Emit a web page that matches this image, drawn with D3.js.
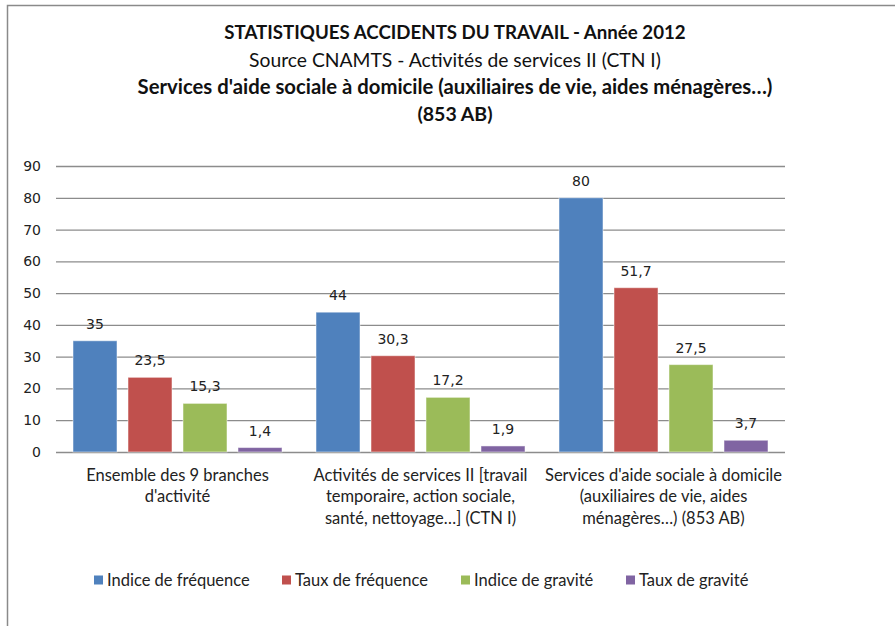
<!DOCTYPE html>
<html>
<head>
  <meta charset="utf-8">
  <title>Statistiques accidents du travail 2012</title>
  <style>
    body { margin: 0; background: #fff; }
    svg { display: block; }
    .title { font-family: Lato, "Open Sans", sans-serif; fill: #111; text-anchor: middle; }
    .num { font-family: "DejaVu Sans", Verdana, sans-serif; font-size: 14px; fill: #222; }
    .cat { font-family: Lato, "Open Sans", sans-serif; font-size: 16.5px; fill: #222; text-anchor: middle; }
    .leg { font-family: Lato, "Open Sans", sans-serif; font-size: 16.5px; fill: #222; }
  </style>
  <script src="https://d3js.org/d3.v7.min.js"></script>
</head>
<body>
  <div id="chart"></div>
  <script>
    // data
    const categories = [
      ["Ensemble des 9 branches", "d'activité"],
      ["Activités de services II [travail", "temporaire, action sociale,", "santé, nettoyage…]  (CTN  I)"],
      ["Services d'aide sociale à domicile", "(auxiliaires de vie, aides", "ménagères…)  (853 AB)"]
    ];
    const seriesNames = ["Indice de fréquence", "Taux de fréquence", "Indice de gravité", "Taux de gravité"];
    const indiceFrequence = [35, 44, 80];
    const tauxFrequence = [23.5, 30.3, 51.7];
    const indiceGravite = [15.3, 17.2, 27.5];
    const tauxGravite = [1.4, 1.9, 3.7];
    const yTicks = [0, 10, 20, 30, 40, 50, 60, 70, 80, 90];
    const titleLines = [
      "STATISTIQUES ACCIDENTS DU TRAVAIL - Année 2012",
      "Source CNAMTS - Activités de services II (CTN I)",
      "Services d'aide sociale à domicile (auxiliaires de vie, aides ménagères…)",
      "(853 AB)"
    ];

    const colors = ["#4F81BD", "#C0504D", "#9BBB59", "#8064A2"];
    const seriesValues = [indiceFrequence, tauxFrequence, indiceGravite, tauxGravite];

    const W = 895, H = 626;
    const svg = d3.select("#chart").append("svg").attr("width", W).attr("height", H);

    // chart frame
    svg.append("path")
      .attr("d", `M7.5,${H} V5.5 H${W}`)
      .attr("fill", "none").attr("stroke", "#8a8a8a").attr("stroke-width", 1.5);

    // titles
    const tY = [32, 60, 87, 114];
    const tWeight = ["bold", "normal", "bold", "bold"];
    const tSize = [18.7, 19.3, 20.3, 19.5];
    svg.selectAll("text.title").data(titleLines).join("text")
      .attr("class", "title")
      .attr("x", 455).attr("y", (d, i) => tY[i]).attr("dy", "0.35em")
      .attr("font-weight", (d, i) => tWeight[i])
      .attr("font-size", (d, i) => tSize[i] + "px")
      .text(d => d);

    const plot = { left: 56, right: 785, top: 166, bottom: 452 };

    const x0 = d3.scaleBand().domain(d3.range(categories.length))
      .range([plot.left, plot.right]);
    const x1 = d3.scaleBand().domain(d3.range(seriesNames.length))
      .range([17, x0.bandwidth() - 17]).paddingInner(0.2);
    const y = d3.scaleLinear().domain([0, 90]).range([plot.bottom, plot.top]);

    // gridlines and y labels
    const yAxis = d3.axisLeft(y).tickValues(yTicks).tickSize(plot.left - plot.right).tickPadding(15)
      .tickFormat(d3.format("d"));
    const gy = svg.append("g").attr("transform", `translate(${plot.left},0)`).call(yAxis);
    gy.select(".domain").remove();
    gy.selectAll(".tick line").attr("stroke", "#8c8c8c").attr("stroke-width", 1.3);
    gy.selectAll(".tick text").attr("class", "num").attr("fill", "#222");

    // bars
    const groups = svg.selectAll("g.grp").data(categories).join("g")
      .attr("class", "grp")
      .attr("transform", (d, i) => `translate(${x0(i)},0)`);

    groups.each(function(cat, ci) {
      const g = d3.select(this);
      const vals = seriesValues.map((s, si) => ({ si, v: s[ci] }));
      g.selectAll("rect").data(vals).join("rect")
        .attr("x", d => x1(d.si))
        .attr("y", d => y(d.v))
        .attr("width", x1.bandwidth())
        .attr("height", d => y(0) - y(d.v))
        .attr("fill", d => colors[d.si])
        .attr("stroke", "#fff").attr("stroke-opacity", 0.5).attr("stroke-width", 1);
      g.selectAll("text.val").data(vals).join("text")
        .attr("class", "num val")
        .attr("text-anchor", "middle")
        .attr("x", d => x1(d.si) + x1.bandwidth() / 2)
        .attr("y", d => y(d.v) - 12)
        .text(d => String(d.v).replace(".", ","));
      // category label
      g.selectAll("text.cat").data(cat).join("text")
        .attr("class", "cat")
        .attr("x", x0.bandwidth() / 2)
        .attr("y", (d, i) => 475 + i * 21.5)
        .attr("dy", "0.35em")
        .text(d => d);
    });

    // legend
    const legX = [94, 282, 461, 626];
    const leg = svg.selectAll("g.leg").data(seriesNames).join("g")
      .attr("class", "leg")
      .attr("transform", (d, i) => `translate(${legX[i]},580)`);
    leg.append("rect").attr("x", 0).attr("y", -4.5).attr("width", 9).attr("height", 9)
      .attr("fill", (d, i) => colors[i]);
    leg.append("text").attr("class", "leg").attr("x", 13).attr("dy", "0.35em").text(d => d);
  </script>
</body>
</html>
